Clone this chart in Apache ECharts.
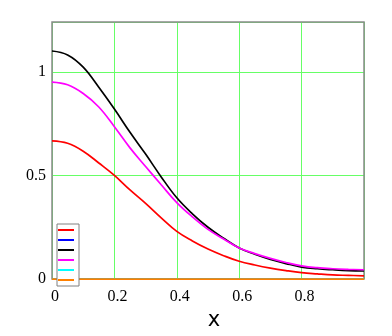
<!DOCTYPE html>
<html>
<head>
<meta charset="utf-8">
<script src="https://cdn.jsdelivr.net/npm/echarts@6/dist/echarts.min.js"></script>
<style>
  html, body { margin: 0; padding: 0; background: #fff; }
  #chart { width: 392px; height: 336px; }
</style>
</head>
<body>
<div id="chart"></div>
<script>
const xs = [0, 0.05, 0.1, 0.15, 0.2, 0.25, 0.3, 0.35, 0.4, 0.45, 0.5, 0.55, 0.6, 0.65, 0.7, 0.75, 0.8, 0.85, 0.9, 0.95, 1.0];
const redVals = [0.667, 0.655, 0.617, 0.56, 0.5, 0.43, 0.365, 0.295, 0.23, 0.184, 0.145, 0.113, 0.086, 0.068, 0.053, 0.041, 0.031, 0.025, 0.02, 0.018, 0.016];
const blackVals = [1.10, 1.081, 1.022, 0.925, 0.82, 0.708, 0.603, 0.493, 0.392, 0.315, 0.25, 0.197, 0.15, 0.12, 0.095, 0.075, 0.058, 0.05, 0.045, 0.041, 0.039];
const magentaVals = [0.95, 0.937, 0.895, 0.83, 0.735, 0.633, 0.543, 0.455, 0.369, 0.3, 0.24, 0.193, 0.15, 0.123, 0.1, 0.08, 0.064, 0.055, 0.05, 0.047, 0.045];
// blue, cyan and orange lie on zero; orange is drawn last and covers them
const blueVals = [0, 0, 0, 0, 0, 0, 0, 0, 0, 0, 0, 0, 0, 0, 0, 0, 0, 0, 0, 0, 0];
const cyanVals = [0, 0, 0, 0, 0, 0, 0, 0, 0, 0, 0, 0, 0, 0, 0, 0, 0, 0, 0, 0, 0];
const orangeVals = [0, 0, 0, 0, 0, 0, 0, 0, 0, 0, 0, 0, 0, 0, 0, 0, 0, 0, 0, 0, 0];

const seriesDefs = [
  { name: 'a', color: '#ff0000', vals: redVals },
  { name: 'b', color: '#0000ff', vals: blueVals },
  { name: 'c', color: '#000000', vals: blackVals },
  { name: 'd', color: '#ff00ff', vals: magentaVals },
  { name: 'e', color: '#00ffff', vals: cyanVals },
  { name: 'f', color: '#ff8000', vals: orangeVals }
];

const chart = echarts.init(document.getElementById('chart'));
const gridGreen = '#66ff66';
const serif = 'Liberation Serif';

chart.setOption({
  animation: false,
  backgroundColor: '#fff',
  // frame drawn above the split lines, below the curves
  grid: { left: 52, top: 22, right: 28, bottom: 46, show: true, z: 3, backgroundColor: 'transparent', borderColor: '#8a8a8a', borderWidth: 1.5 },
  legend: {
    left: 57, top: 224, orient: 'vertical', z: 6,
    data: seriesDefs.map(s => ({ name: s.name, icon: 'rect' })),
    itemWidth: 16, itemHeight: 2, itemGap: 8,
    formatter: () => '',
    textStyle: { fontSize: 1 },
    padding: [5, 5, 5, 1],
    borderColor: '#808080', borderWidth: 1,
    backgroundColor: '#fff',
    selectedMode: false
  },
  xAxis: {
    type: 'value', min: 0, max: 1, interval: 0.2,
    name: 'x', nameLocation: 'middle', nameGap: 26,
    nameTextStyle: { fontFamily: 'DejaVu Sans', fontSize: 21, color: '#000', padding: [0, 0, 0, 12] },
    axisLine: { show: false },
    axisTick: { show: false },
    axisLabel: { color: '#000', fontFamily: serif, fontSize: 16, margin: 10, showMaxLabel: false, padding: [0, 0, 0, 6] },
    splitLine: { show: true, lineStyle: { color: gridGreen, width: 1 } }
  },
  yAxis: {
    type: 'value', min: 0, max: 1.24, interval: 0.5,
    axisLine: { show: false },
    axisTick: { show: false },
    axisLabel: { color: '#000', fontFamily: serif, fontSize: 16, margin: 6, showMaxLabel: false },
    splitLine: { show: true, lineStyle: { color: gridGreen, width: 1 } }
  },
  series: seriesDefs.map(s => ({
    name: s.name, type: 'line', smooth: 0.4, showSymbol: false, z: 4,
    data: xs.map((x, i) => [x, s.vals[i]]),
    lineStyle: { color: s.color, width: 1.7 }, itemStyle: { color: s.color }
  }))
});
</script>
</body>
</html>
